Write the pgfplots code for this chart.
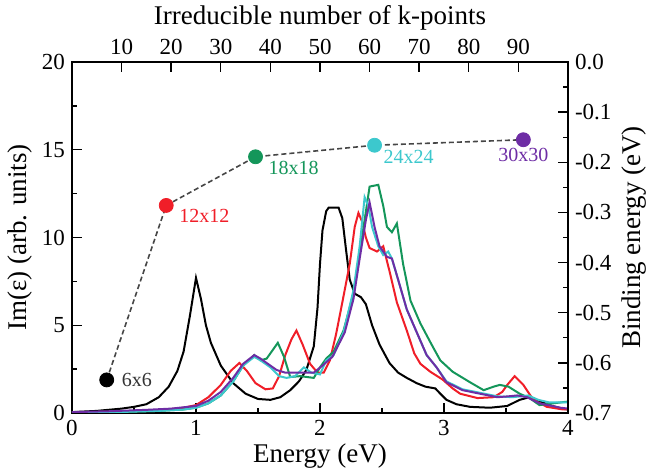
\documentclass[border=0pt]{standalone}
\usepackage{fontspec}
\setmainfont{Liberation Serif}
\usepackage{pgfplots}
\pgfplotsset{compat=1.18}
\definecolor{cred}{RGB}{240,30,40}
\definecolor{cgreen}{RGB}{20,150,90}
\definecolor{ccyan}{RGB}{60,200,205}
\definecolor{cpurple}{RGB}{110,45,165}
\definecolor{dgray}{RGB}{70,70,70}
\begin{document}
\begin{tikzpicture}
\path[use as bounding box] (-36pt,-29pt) rectangle (289pt,206.5pt);
\pgfplotsset{
  common/.style={
    at={(0pt,0pt)}, anchor=south west, scale only axis,
    width=248pt, height=175.5pt,
    axis line style={line width=1pt},
    major tick length=5pt, minor tick length=2.5pt,
    every tick/.style={black, line width=0.7pt},
    tick label style={font=\fontsize{11.5}{13}\selectfont},
    label style={font=\fontsize{13.5}{15}\selectfont},
    /pgf/number format/assume math mode=true,
  }
}
\begin{axis}[common,
  xmin=0, xmax=4, ymin=0, ymax=20,
  xtick={0,1,2,3,4}, ytick={0,5,10,15,20},
  minor x tick num=1, minor y tick num=1,
  xtick pos=left, ytick pos=left,
  xlabel={Energy (eV)}, ylabel={Im(ε) (arb. units)},
  xlabel style={yshift=3pt}, ylabel style={yshift=-2pt},
]
\addplot[black, line width=1pt] coordinates {
(0,0.05) (0.2,0.12) (0.4,0.25) (0.5,0.35) (0.6,0.5) (0.7,0.9) (0.78,1.5) (0.85,2.4) (0.9,3.5) (0.95,5.5) (1.0,7.7) (1.04,6.5) (1.08,5.0) (1.12,4.0) (1.2,2.7) (1.3,1.7) (1.4,1.1) (1.5,0.8) (1.6,0.75) (1.68,0.9) (1.76,1.3) (1.83,1.8) (1.89,2.45) (1.95,3.8) (1.98,6.0) (2.0,8.5) (2.02,10.4) (2.05,11.5) (2.07,11.7) (2.15,11.7) (2.18,11.1) (2.21,9.3) (2.24,7.6) (2.28,6.8) (2.33,6.6) (2.37,6.2) (2.42,5.0) (2.48,3.9) (2.56,2.85) (2.63,2.3) (2.70,2.0) (2.78,1.7) (2.85,1.5) (2.93,1.4) (2.97,1.1) (3.02,0.75) (3.1,0.5) (3.21,0.35) (3.37,0.3) (3.51,0.4) (3.61,0.75) (3.69,0.9) (3.76,0.7) (3.85,0.45) (3.95,0.25) (4.0,0.2)
};
\addplot[cred, line width=1pt] coordinates {
(0,0.03) (0.4,0.08) (0.7,0.15) (0.9,0.3) (1.0,0.45) (1.1,0.9) (1.2,1.6) (1.28,2.4) (1.35,2.85) (1.41,2.4) (1.48,1.7) (1.56,1.35) (1.62,1.4) (1.67,2.1) (1.72,3.3) (1.77,4.2) (1.81,4.7) (1.86,3.9) (1.92,2.8) (1.98,2.3) (2.03,2.3) (2.08,3.0) (2.13,4.5) (2.18,6.3) (2.24,8.5) (2.28,10.6) (2.31,11.4) (2.34,10.9) (2.37,10.0) (2.40,9.4) (2.46,9.2) (2.51,9.5) (2.56,8.1) (2.62,6.3) (2.70,4.7) (2.76,3.4) (2.81,2.8) (2.89,2.35) (2.99,1.9) (3.07,1.4) (3.13,1.1) (3.27,0.85) (3.40,0.9) (3.47,1.2) (3.51,1.6) (3.57,2.1) (3.64,1.6) (3.72,0.75) (3.83,0.35) (3.96,0.2) (4.0,0.2)
};
\addplot[cgreen, line width=1pt] coordinates {
(0,0.03) (0.4,0.06) (0.7,0.12) (0.9,0.2) (1.0,0.3) (1.1,0.55) (1.2,1.0) (1.3,1.8) (1.38,2.7) (1.47,3.3) (1.52,3.0) (1.57,3.1) (1.62,3.6) (1.66,4.0) (1.71,3.2) (1.76,2.05) (1.84,2.1) (1.95,2.0) (2.0,2.6) (2.05,3.1) (2.11,3.5) (2.19,4.7) (2.27,6.8) (2.32,9.1) (2.36,11.0) (2.40,12.9) (2.47,13.0) (2.51,11.8) (2.54,10.6) (2.58,10.3) (2.62,10.8) (2.67,8.5) (2.73,6.4) (2.81,5.1) (2.9,3.9) (2.97,3.0) (3.07,2.35) (3.21,1.75) (3.32,1.3) (3.40,1.5) (3.45,1.6) (3.52,1.5) (3.61,1.1) (3.69,0.85) (3.77,0.45) (3.88,0.55) (4.0,0.65)
};
\addplot[ccyan, line width=1pt] coordinates {
(0,0.03) (0.4,0.06) (0.7,0.12) (0.9,0.2) (1.0,0.3) (1.1,0.55) (1.2,1.0) (1.3,1.8) (1.38,2.7) (1.47,3.2) (1.52,3.0) (1.6,2.6) (1.67,2.1) (1.73,2.0) (1.8,2.1) (1.87,2.6) (1.93,2.3) (2.0,2.2) (2.05,3.0) (2.11,3.3) (2.19,4.6) (2.27,7.0) (2.32,9.5) (2.36,12.3) (2.39,11.8) (2.42,10.6) (2.47,9.5) (2.51,9.0) (2.55,9.2) (2.58,8.8) (2.63,7.6) (2.70,5.9) (2.78,4.6) (2.86,3.3) (2.94,2.6) (3.02,1.8) (3.15,1.35) (3.29,1.15) (3.43,0.95) (3.55,0.9) (3.62,0.95) (3.68,1.0) (3.76,0.75) (3.85,0.6) (4.0,0.6)
};
\addplot[cpurple, line width=1pt] coordinates {
(0,0.05) (0.3,0.1) (0.6,0.18) (0.8,0.25) (1.0,0.4) (1.1,0.7) (1.2,1.2) (1.3,2.0) (1.38,2.8) (1.47,3.3) (1.52,3.1) (1.58,2.8) (1.65,2.45) (1.72,2.3) (1.8,2.3) (1.95,2.3) (2.02,2.7) (2.1,3.2) (2.2,4.6) (2.27,6.5) (2.32,8.8) (2.37,11.0) (2.40,12.0) (2.44,10.6) (2.48,9.5) (2.54,8.9) (2.58,8.8) (2.63,7.6) (2.70,5.9) (2.78,4.6) (2.86,3.3) (2.94,2.6) (3.02,1.75) (3.15,1.3) (3.29,1.1) (3.43,0.9) (3.52,0.95) (3.59,1.0) (3.67,0.9) (3.77,0.55) (3.94,0.3) (4.0,0.25)
};
\end{axis}
\begin{axis}[common,
  xmin=0, xmax=100, ymin=-0.7, ymax=0,
  axis x line*=top, axis y line*=right,
  xtick={10,20,30,40,50,60,70,80,90},
  ytick={-0.7,-0.6,-0.5,-0.4,-0.3,-0.2,-0.1,0},
  minor y tick num=1,
  yticklabel style={/pgf/number format/.cd, fixed, fixed zerofill, precision=1},
  xlabel={Irreducible number of k-points}, ylabel={Binding energy (eV)},
  xlabel style={yshift=-2.5pt}, ylabel style={yshift=1.5pt},
]
\addplot[dgray, line width=0.8pt, dash pattern=on 2.5pt off 1.5pt] coordinates {
(7,-0.634) (19,-0.286) (37,-0.189) (61,-0.166) (91,-0.155)
};
\addplot[only marks, mark=*, mark size=3.5pt, black] coordinates {(7,-0.634)};
\addplot[only marks, mark=*, mark size=3.5pt, cred] coordinates {(19,-0.286)};
\addplot[only marks, mark=*, mark size=3.5pt, cgreen] coordinates {(37,-0.189)};
\addplot[only marks, mark=*, mark size=3.5pt, ccyan] coordinates {(61,-0.166)};
\addplot[only marks, mark=*, mark size=3.5pt, cpurple] coordinates {(91,-0.155)};
\node[anchor=west, font=\fontsize{10}{12}\selectfont, text=black!80, xshift=4pt] at (axis cs:7,-0.634) {6x6};
\node[anchor=west, font=\fontsize{10}{12}\selectfont, text=cred, xshift=3pt, yshift=-5pt] at (axis cs:19,-0.286) {12x12};
\node[anchor=west, font=\fontsize{10}{12}\selectfont, text=cgreen, xshift=3pt, yshift=-5.5pt] at (axis cs:37,-0.189) {18x18};
\node[anchor=west, font=\fontsize{10}{12}\selectfont, text=ccyan, xshift=1pt, yshift=-6pt] at (axis cs:61,-0.166) {24x24};
\node[anchor=center, font=\fontsize{10}{12}\selectfont, text=cpurple, yshift=-7.5pt] at (axis cs:91,-0.155) {30x30};
\end{axis}
\end{tikzpicture}
\end{document}
